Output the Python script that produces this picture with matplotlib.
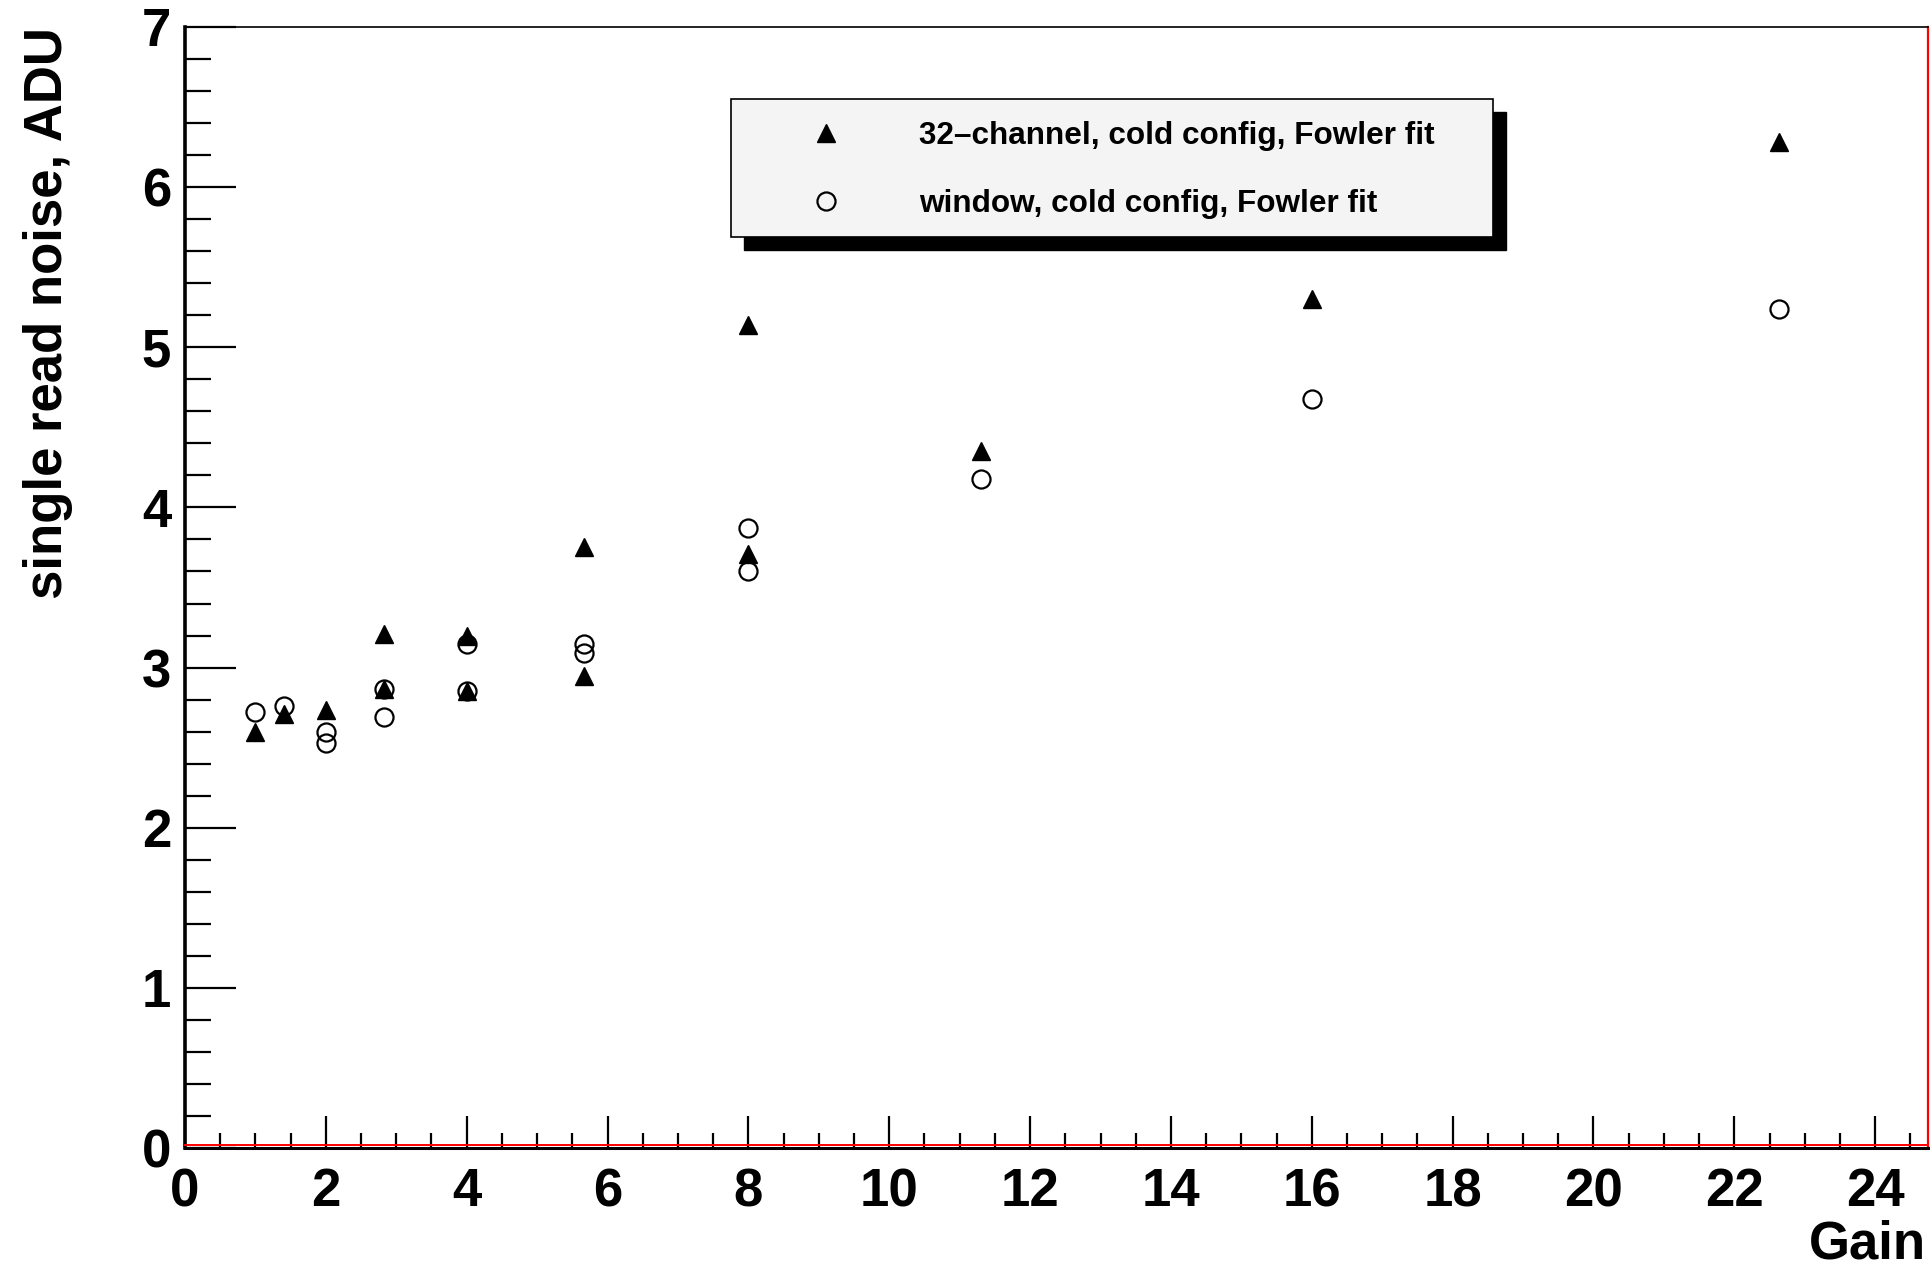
import numpy as np
import matplotlib.pyplot as plt
from matplotlib.patches import Rectangle

# Gain settings (powers of sqrt(2))
gain_32ch = [1.0, 1.41, 2.0, 2.83, 2.83, 4.0, 4.0, 5.66, 5.66, 8.0, 8.0, 11.31, 16.0, 22.63]
noise_32ch = [2.60, 2.71, 2.735, 3.21, 2.865, 3.20, 2.855, 3.75, 2.95, 5.14, 3.71, 4.35, 5.30, 6.28]

gain_win = [1.0, 1.41, 2.0, 2.0, 2.83, 2.83, 4.0, 4.0, 5.66, 5.66, 8.0, 8.0, 11.31, 16.0, 22.63]
noise_win = [2.72, 2.76, 2.60, 2.53, 2.865, 2.69, 3.145, 2.856, 3.15, 3.09, 3.87, 3.60, 4.18, 4.68, 5.24]

labels = ['32\u2013channel, cold config, Fowler fit', 'window, cold config, Fowler fit']

plt.rcParams['font.family'] = ['Liberation Sans', 'DejaVu Sans']
plt.rcParams['font.weight'] = 'bold'

W, H = 1933, 1268
fig = plt.figure(figsize=(W / 100, H / 100), dpi=100)
ax = fig.add_axes([185 / W, 1 - 1148 / H, (1928 - 185) / W, (1148 - 27) / H])

ax.plot(gain_32ch, noise_32ch, linestyle='none', marker='^', color='black',
        markersize=13, label=labels[0], zorder=3)
ax.plot(gain_win, noise_win, linestyle='none', marker='o', markerfacecolor='none',
        markeredgecolor='black', markeredgewidth=1.6, markersize=13, label=labels[1], zorder=3)

ax.set_xlim(0, 24.75)
ax.set_ylim(0, 7)
ax.set_xticks(np.arange(0, 25, 2))
ax.set_xticks(np.arange(0, 24.8, 0.5), minor=True)
ax.set_yticks(np.arange(0, 8, 1))
ax.set_yticks(np.arange(0, 7.01, 0.2), minor=True)

ax.tick_params(axis='both', which='both', direction='in', top=False, right=False,
               labelsize=38, width=1.6, color='black')
ax.tick_params(axis='x', which='major', length=23, pad=14)
ax.tick_params(axis='x', which='minor', length=11)
ax.tick_params(axis='y', which='major', length=37, pad=10)
ax.tick_params(axis='y', which='minor', length=19)
for lab in ax.get_xticklabels() + ax.get_yticklabels():
    lab.set_fontweight('bold')

ax.spines['left'].set_linewidth(2.6)
ax.spines['bottom'].set_linewidth(2.2)
ax.spines['top'].set_linewidth(1.2)
ax.spines['right'].set_color('red')
ax.spines['right'].set_linewidth(1.6)
ax.plot([0, 1], [0.003, 0.003], transform=ax.transAxes, color='red', lw=1.4,
        clip_on=False, zorder=4)

ax.set_ylabel('single read noise, ADU', fontsize=38, fontweight='bold')
ax.yaxis.set_label_coords(-0.064, 1.0)
ax.yaxis.label.set_ha('right')
ax.set_xlabel('Gain', fontsize=38, fontweight='bold')
ax.xaxis.set_label_coords(0.999, -0.064)
ax.xaxis.label.set_ha('right')

# legend box with ROOT-style solid shadow
bx0, bx1, by0, by1 = 731, 1493, 99, 237
off = 13
ax.add_patch(Rectangle(((bx0 + off) / W, 1 - (by1 + off) / H), (bx1 - bx0) / W,
                       (by1 - by0) / H, transform=fig.transFigure, clip_on=False,
                       facecolor='black', edgecolor='black', zorder=5))
ax.add_patch(Rectangle((bx0 / W, 1 - by1 / H), (bx1 - bx0) / W, (by1 - by0) / H,
                       transform=fig.transFigure, clip_on=False, facecolor='#f4f4f4',
                       edgecolor='black', linewidth=1.2, zorder=5.5))
leg = ax.legend(loc='center left', bbox_to_anchor=(810 / W, 1 - 170 / H),
                bbox_transform=fig.transFigure, frameon=False,
                prop={'weight': 'bold', 'size': 22.7}, handlelength=1.0,
                handletextpad=2.45, labelspacing=1.19, borderaxespad=0,
                borderpad=0)
leg.set_zorder(6)

fig.savefig('out.png', dpi=100)
